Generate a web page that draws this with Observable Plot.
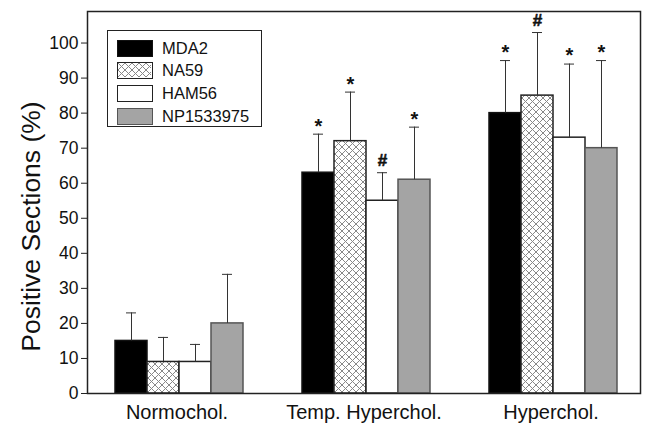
<!DOCTYPE html>
<html><head><meta charset="utf-8">
<script src="https://cdn.jsdelivr.net/npm/d3@7"></script>
<script src="https://cdn.jsdelivr.net/npm/@observablehq/plot@0.6"></script>
<style>
body{margin:0;background:#fff;font-family:"Liberation Sans",Arial,sans-serif;}
#wrap{position:relative;width:647px;height:424px;}
#legend{position:absolute;left:107px;top:30px;width:155px;height:97px;border:1.5px solid #222;background:#fff;box-sizing:border-box;}
.row{position:absolute;left:9px;height:18px;display:flex;align-items:center;font-size:16.5px;color:#111;white-space:nowrap}
.sw{width:36px;height:17px;box-sizing:border-box;border:1.5px solid #222;margin-right:9px;display:inline-block}
.sw svg{display:block}
</style></head><body><div id="wrap"></div>
<script>
const groups = ["Normochol.", "Temp. Hyperchol.", "Hyperchol."];
const series = ["MDA2", "NA59", "HAM56", "NP1533975"];
const mda2 = [15, 63, 80];
const na59 = [9, 72, 85];
const ham56 = [9, 55, 73];
const np1533975 = [20, 61, 70];
const mda2Sd = [8, 11, 15];
const na59Sd = [7, 14, 18];
const ham56Sd = [5, 8, 21];
const np1533975Sd = [14, 15, 25];
const mda2Sig = ["", "*", "*"];
const na59Sig = ["", "*", "#"];
const ham56Sig = ["", "#", "*"];
const np1533975Sig = ["", "*", "*"];
const yTicks = [0, 10, 20, 30, 40, 50, 60, 70, 80, 90, 100];

const vals = [mda2, na59, ham56, np1533975];
const sds = [mda2Sd, na59Sd, ham56Sd, np1533975Sd];
const sigs = [mda2Sig, na59Sig, ham56Sig, np1533975Sig];
const fills = ["#000", "url(#xhatch)", "#fff", "#a4a4a4"];
const strokes = ["#111", "#222", "#222", "#555"];

const rows = [];
series.forEach((s, i) => groups.forEach((g, j) => rows.push({
  group: g, series: s, value: vals[i][j], top: vals[i][j] + sds[i][j], sig: sigs[i][j]
})));
const stars = rows.filter(d => d.sig === "*");
const hashes = rows.filter(d => d.sig === "#");

const chart = Plot.plot({
  width: 647, height: 424,
  marginLeft: 86, marginRight: 7, marginTop: 11, marginBottom: 31,
  style: {fontFamily: "'Liberation Sans', Arial, sans-serif", background: "white", color: "#111", overflow: "visible"},
  fx: {domain: groups, paddingInner: 0.043, paddingOuter: 0, label: null},
  x: {domain: series, paddingInner: 0, paddingOuter: 0.72, align: 0.55, axis: null},
  y: {domain: [0, 109]},
  marks: [
    ...series.map((s, i) => Plot.barY(rows.filter(d => d.series === s), {
      fx: "group", x: "series", y: "value", fill: fills[i], stroke: strokes[i], strokeWidth: 1.5
    })),
    Plot.ruleX(rows, {fx: "group", x: "series", y1: "value", y2: "top", stroke: "#333", strokeWidth: 1}),
    Plot.tickY(rows, {fx: "group", x: "series", y: "top", inset: 11, stroke: "#333", strokeWidth: 1}),
    Plot.text(stars, {fx: "group", x: "series", y: "top", text: "sig", dy: -8, fontSize: 20, fontWeight: "bold", fill: "#111"}),
    Plot.text(hashes, {fx: "group", x: "series", y: "top", text: "sig", dy: -12, fontSize: 17, fontWeight: "bold", fill: "#111", stroke: "#111", strokeWidth: 0.6}),
    Plot.axisY({ticks: yTicks, tickSize: 6, tickPadding: 3, fontSize: 17.5, label: null, stroke: "#222"}),
    Plot.axisFx({anchor: "bottom", tickSize: 0, tickPadding: 11, fontSize: 20, label: null}),
    Plot.frame({facet: "super", stroke: "#222", strokeWidth: 1.5}),
    Plot.text(["Positive Sections (%)"], {facet: "super", frameAnchor: "left", textAnchor: "middle", rotate: -90, dx: -56, dy: 24, fontSize: 26.5, fill: "#111"})
  ]
});

const svg = d3.select(chart);
const defs = svg.insert("defs", ":first-child");
function addHatch(defsSel, id) {
  const p = defsSel.append("pattern").attr("id", id).attr("patternUnits", "userSpaceOnUse")
    .attr("width", 7).attr("height", 7);
  p.append("rect").attr("width", 7).attr("height", 7).attr("fill", "#fff");
  p.append("path").attr("d", "M0,0L7,7M7,0L0,7M-1,6L1,8M6,-1L8,1M-1,1L1,-1M6,8L8,6")
    .attr("stroke", "#888").attr("stroke-width", 1);
}
addHatch(defs, "xhatch");

const wrap = document.getElementById("wrap");
wrap.appendChild(chart);

const legend = document.createElement("div");
legend.id = "legend";
series.forEach((s, i) => {
  const row = document.createElement("div");
  row.className = "row";
  row.style.top = (8 + i * 22.7) + "px";
  const sw = document.createElement("span");
  sw.className = "sw";
  if (i === 1) {
    sw.innerHTML = '<svg width="33" height="14"><defs></defs><rect width="33" height="14" fill="url(#xhatchL)"/></svg>';
    addHatch(d3.select(sw).select("defs"), "xhatchL");
  } else {
    sw.style.background = fills[i];
  }
  sw.style.borderColor = strokes[i];
  row.appendChild(sw);
  row.appendChild(document.createTextNode(s));
  legend.appendChild(row);
});
wrap.appendChild(legend);
</script></body></html>
